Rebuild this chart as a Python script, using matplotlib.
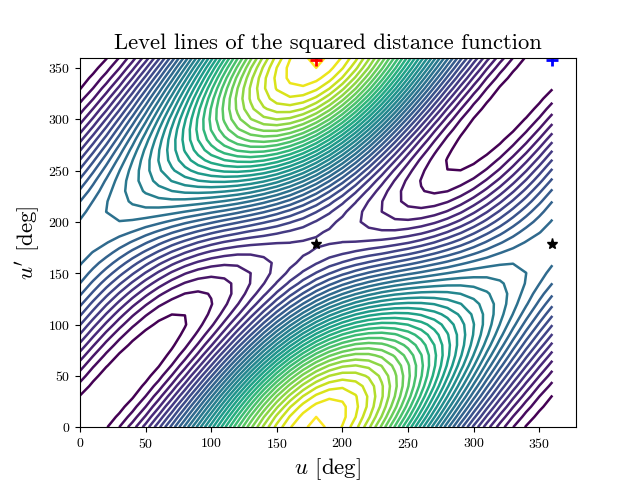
import matplotlib
matplotlib.use("Agg")
import matplotlib.pyplot as plt
import numpy as np

plt.rcParams['font.family'] = 'cmr10'
plt.rcParams['mathtext.fontset'] = 'cm'
plt.rcParams['axes.formatter.use_mathtext'] = True

# angles of the grid, every 10 deg
u_deg = list(range(0, 370, 10))
v_deg = list(range(0, 370, 10))

# squared distance x 1000, estimated from the level lines, rows are u' = 0..180
half_rows = [
    [0, 6, 25, 56, 98, 151, 215, 288, 369, 455, 543, 632, 718, 798, 868, 927, 970, 997, 1006, 997, 970, 927, 868, 798, 718, 632, 543, 455, 369, 288, 215, 151, 98, 56, 25, 6, 0],
    [3, 1, 11, 34, 68, 115, 174, 242, 320, 404, 493, 583, 672, 756, 832, 897, 947, 982, 1000, 999, 981, 945, 894, 831, 756, 675, 589, 502, 416, 334, 258, 190, 131, 82, 44, 18, 3],
    [12, 1, 3, 17, 44, 83, 135, 198, 271, 352, 439, 529, 619, 706, 786, 856, 914, 956, 981, 989, 979, 952, 910, 853, 786, 710, 628, 544, 460, 378, 301, 230, 167, 113, 68, 35, 12],
    [26, 8, 1, 6, 24, 56, 100, 156, 223, 300, 384, 472, 562, 650, 733, 807, 869, 918, 951, 967, 965, 947, 913, 865, 805, 736, 660, 580, 500, 420, 343, 271, 205, 146, 97, 56, 26],
    [46, 20, 5, 1, 11, 34, 69, 118, 178, 249, 328, 413, 501, 589, 673, 750, 816, 870, 910, 933, 940, 930, 905, 865, 814, 752, 683, 610, 533, 457, 382, 310, 243, 182, 128, 82, 46],
    [70, 37, 14, 3, 4, 18, 44, 85, 137, 201, 274, 354, 439, 525, 608, 686, 756, 814, 859, 889, 903, 901, 885, 854, 811, 758, 697, 631, 560, 488, 417, 347, 280, 218, 161, 112, 70],
    [97, 59, 30, 11, 3, 8, 26, 57, 101, 157, 223, 297, 377, 459, 541, 619, 690, 751, 800, 835, 856, 862, 854, 832, 798, 754, 702, 643, 580, 514, 447, 380, 316, 254, 196, 143, 97],
    [127, 85, 50, 24, 9, 5, 14, 36, 71, 118, 177, 244, 317, 395, 473, 549, 620, 682, 734, 774, 800, 813, 812, 799, 774, 739, 696, 646, 591, 532, 471, 409, 348, 288, 230, 176, 127],
    [159, 114, 74, 43, 21, 9, 10, 23, 48, 87, 136, 195, 262, 333, 407, 479, 548, 610, 664, 706, 737, 756, 762, 757, 740, 714, 680, 639, 593, 542, 488, 433, 376, 319, 263, 210, 159],
    [192, 145, 102, 66, 38, 20, 12, 17, 33, 62, 103, 153, 212, 276, 344, 412, 477, 538, 591, 635, 669, 692, 704, 706, 698, 680, 655, 623, 586, 544, 498, 450, 399, 347, 294, 242, 192],
    [224, 177, 133, 94, 61, 37, 22, 18, 26, 46, 77, 119, 169, 225, 286, 348, 409, 466, 518, 562, 598, 624, 641, 649, 647, 638, 622, 599, 571, 538, 501, 460, 416, 370, 322, 273, 224],
    [255, 210, 165, 124, 88, 59, 38, 28, 28, 39, 61, 93, 134, 182, 235, 290, 345, 398, 447, 490, 525, 554, 574, 586, 591, 589, 580, 566, 547, 523, 495, 463, 427, 388, 346, 301, 255],
    [284, 241, 198, 157, 119, 87, 61, 45, 37, 41, 54, 77, 109, 148, 192, 240, 288, 335, 380, 420, 454, 483, 505, 520, 530, 534, 533, 527, 516, 501, 482, 459, 432, 400, 365, 326, 284],
    [310, 272, 231, 191, 153, 119, 90, 68, 55, 51, 57, 71, 94, 124, 160, 199, 240, 280, 319, 355, 387, 414, 436, 454, 467, 475, 480, 481, 479, 472, 462, 448, 430, 406, 378, 346, 310],
    [333, 299, 263, 226, 189, 154, 124, 99, 81, 71, 69, 76, 90, 112, 138, 169, 201, 234, 267, 297, 325, 349, 370, 388, 403, 415, 424, 431, 436, 438, 436, 431, 421, 406, 387, 362, 333],
    [351, 324, 293, 260, 226, 192, 161, 134, 113, 98, 91, 91, 98, 111, 128, 150, 174, 199, 224, 248, 270, 290, 309, 325, 341, 355, 367, 379, 389, 398, 404, 407, 406, 400, 389, 373, 351],
    [364, 344, 320, 292, 262, 231, 201, 174, 151, 134, 122, 116, 116, 121, 131, 144, 159, 175, 192, 209, 225, 240, 254, 268, 282, 296, 311, 326, 340, 355, 368, 378, 385, 388, 386, 378, 364],
    [372, 360, 344, 322, 297, 271, 244, 218, 195, 175, 160, 150, 144, 143, 145, 150, 157, 163, 171, 181, 190, 199, 208, 217, 229, 241, 256, 273, 291, 309, 328, 345, 360, 371, 377, 377, 372],
    [375, 372, 363, 348, 330, 309, 286, 263, 242, 222, 205, 192, 182, 175, 171, 168, 167, 164, 162, 164, 167, 168, 171, 175, 182, 192, 205, 222, 242, 263, 286, 309, 330, 348, 363, 372, 375],
]

level_step = 1000 / 36.
n_levels = 36

stars_u = [180, 360]
stars_v = [178, 178]
plus_u = [180, 360]
plus_v = [358, 358]
plus_col = ['red', 'blue']

half = np.array(half_rows, dtype=float)
# the plot is point symmetric, u' = 190..360 are the same rows turned round
dist2 = np.vstack([half, half[-2::-1, ::-1]])

fig, ax = plt.subplots()
ax.contour(u_deg, v_deg, dist2, levels=level_step*np.arange(1, n_levels + 1), linewidths=1.8)
ax.plot(stars_u, stars_v, '*', color='k', ms=8)
for i in range(len(plus_u)):
    ax.plot(plus_u[i], plus_v[i], '+', color=plus_col[i], ms=8.6, mew=2)
ax.set_xlim(0, 378)
ax.set_ylim(0, 360)
ax.set_title('Level lines of the squared distance function', fontsize=16.3)
ax.set_xlabel(r'$u$ [deg]', fontsize=16.5)
ax.set_ylabel(r"$u'$ [deg]", fontsize=16.5)
fig.savefig('out.png', dpi=100)
